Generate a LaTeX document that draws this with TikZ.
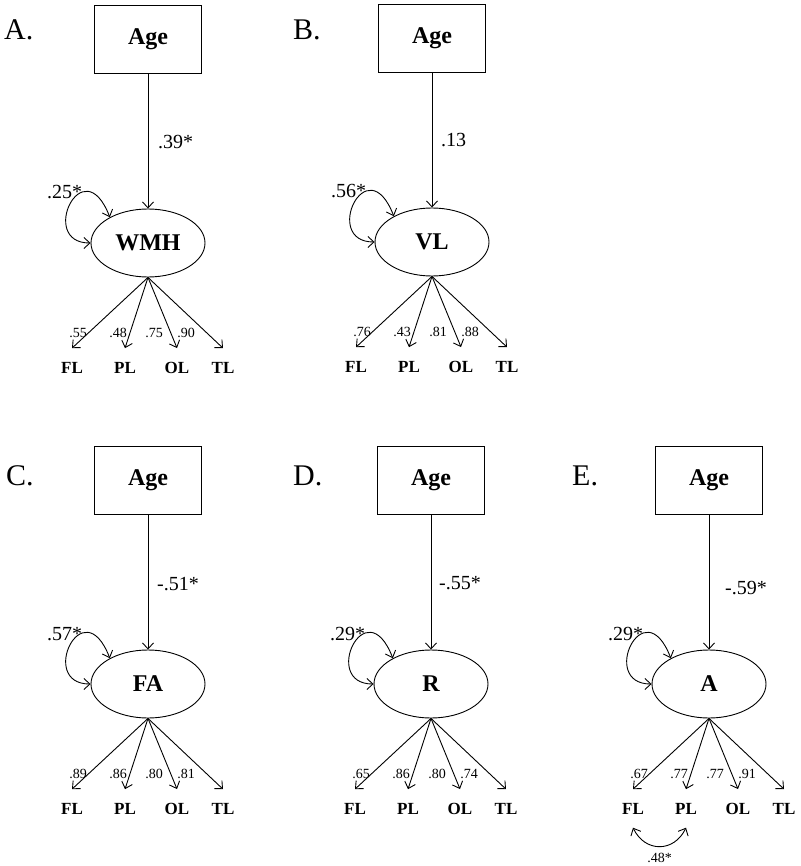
\documentclass[tikz,border=0pt]{standalone}
\usepackage{fontspec}
\setmainfont{Liberation Serif}
\usetikzlibrary{shapes.geometric,arrows.meta}

\tikzset{
  ln/.style={line width=0.9pt},
  arr/.style={ln, -{Straight Barb[length=6pt,width=11pt]}},
  darr/.style={ln, {Straight Barb[length=6pt,width=11pt]}-{Straight Barb[length=6pt,width=11pt]}},
  agebox/.style={draw, ln, rectangle, minimum width=107pt, minimum height=68pt, inner sep=0pt, font=\fontsize{24}{28}\selectfont\bfseries},
  latent/.style={draw, ln, ellipse, minimum width=114pt, minimum height=68pt, inner sep=0pt, font=\fontsize{24}{28}\selectfont\bfseries},
  panellbl/.style={anchor=base west, inner sep=0pt, font=\fontsize{30}{34}\selectfont},
  pathlbl/.style={anchor=base west, inner sep=0pt, font=\fontsize{20}{23}\selectfont},
  loadlbl/.style={anchor=base east, inner sep=0pt, font=\fontsize{14}{16}\selectfont},
  indic/.style={anchor=base, inner xsep=0pt, inner ysep=13.5pt, font=\fontsize{17}{20}\selectfont\bfseries},
  covlbl/.style={anchor=base, inner sep=0pt, font=\fontsize{14}{16}\selectfont},
}

% #1 prefix, #2 latent, #3 path coef, #4 variance, #5-#8 loadings, #9 path label position
\newcommand\sempanel[9]{%
  \node[agebox] (#1age) at (0,34) {Age};
  \node[latent] (#1lat) at (0,238) {#2};
  \draw[arr] (#1age.south) -- (#1lat.north);
  \node[pathlbl] (#1path) at (#9) {#3};
  \draw[darr] (#1lat.180) .. controls +(-53,0) and +(-27,-70) .. (#1lat.146);
  \node[pathlbl] (#1var) at (-101,194) {#4};
  \node[indic] (#1FL) at (-76,368) {FL};
  \node[indic] (#1PL) at (-23,368) {PL};
  \node[indic] (#1OL) at (29,368) {OL};
  \node[indic] (#1TL) at (75,368) {TL};
  \draw[arr] (#1lat.south) -- (#1FL.north);
  \draw[arr] (#1lat.south) -- (#1PL.north);
  \draw[arr] (#1lat.south) -- (#1OL.north);
  \draw[arr] (#1lat.south) -- (#1TL.north);
  \node[loadlbl] (#1la) at (-61,332) {#5};
  \node[loadlbl] (#1lb) at (-21,332) {#6};
  \node[loadlbl] (#1lc) at (15,332) {#7};
  \node[loadlbl] (#1ld) at (47,332) {#8};
}

\begin{document}
\begin{tikzpicture}[x=1pt,y=-1pt]
  \useasboundingbox (0,0) rectangle (800,866);

  \node[panellbl] (labA) at (4,40) {A.};
  \node[panellbl] (labB) at (293,40) {B.};
  \node[panellbl] (labC) at (6,485) {C.};
  \node[panellbl] (labD) at (293,485) {D.};
  \node[panellbl] (labE) at (572,485) {E.};

  \begin{scope}[shift={(148,5)}]
    \sempanel{A}{WMH}{.39*}{.25*}{.55}{.48}{.75}{.90}{10,144}
  \end{scope}

  \begin{scope}[shift={(432,4)}]
    \sempanel{B}{VL}{.13}{.56*}{.76}{.43}{.81}{.88}{9,143}
  \end{scope}

  \begin{scope}[shift={(148,446)}]
    \sempanel{C}{FA}{-.51*}{.57*}{.89}{.86}{.80}{.81}{9,144}
  \end{scope}

  \begin{scope}[shift={(431,446)}]
    \sempanel{D}{R}{-.55*}{.29*}{.65}{.86}{.80}{.74}{8,143}
  \end{scope}

  \begin{scope}[shift={(709,446)}]
    \sempanel{E}{A}{-.59*}{.29*}{.67}{.77}{.77}{.91}{16,148}
    \draw[darr] (EFL.south) .. controls +(12,25) and +(-12,25) .. (EPL.south);
    \node[covlbl] (Ecov) at (-49.5,416) {.48*};
  \end{scope}
\end{tikzpicture}
\end{document}
